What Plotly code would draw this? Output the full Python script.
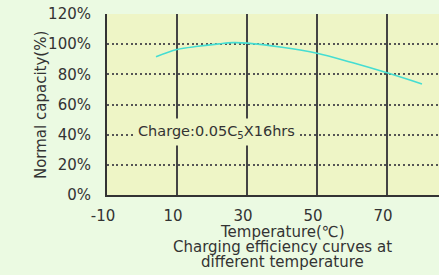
import plotly.graph_objects as go

# Data
temps = [4, 10, 16, 22, 26, 30, 40, 50, 60, 70, 80]
capacity = [91.7, 96.5, 98.6, 100.2, 101.0, 100.7, 98.0, 94.0, 87.8, 81.0, 73.6]

x_ticks = [-10, 10, 30, 50, 70]
y_ticks = [0, 20, 40, 60, 80, 100, 120]
y_tick_text = ["0%", "20%", "40%", "60%", "80%", "100%", "120%"]
y_grid = [20, 40, 60, 80, 100]

PLOT_BG = "#eef5c6"
PAPER_BG = "#ebfae2"
FONT = "DejaVu Sans"
TXT = "#333333"

fig = go.Figure()
fig.add_trace(go.Scatter(
    x=temps, y=capacity, mode="lines",
    line=dict(color="#45ddd2", width=1.6, shape="spline"),
    hoverinfo="skip", showlegend=False,
))

fig.update_layout(
    width=439, height=275,
    margin=dict(l=107, r=0, t=14, b=80),
    paper_bgcolor=PAPER_BG, plot_bgcolor=PLOT_BG,
    font=dict(family=FONT, size=15, color=TXT),
    xaxis=dict(
        range=[-10, 84.86], tickvals=x_ticks, ticktext=[str(v) for v in x_ticks],
        showgrid=True, gridcolor="#444444", gridwidth=1.5,
        showline=True, linecolor="#333333", linewidth=2,
        zeroline=False, ticks="", ticklabelstandoff=6, ticklabelshift=-4,
        tickfont=dict(family=FONT, size=15, color=TXT),
    ),
    yaxis=dict(
        range=[0, 120], tickvals=y_ticks, ticktext=y_tick_text,
        showgrid=False,
        minor=dict(tickvals=y_grid, showgrid=True, gridcolor="#555555",
                   gridwidth=2, griddash="2px,2.7px", ticks=""),
        showline=True, linecolor="#333333", linewidth=2,
        zeroline=False, ticks="", ticklabelstandoff=11,
        tickfont=dict(family=FONT, size=15, color=TXT),
    ),
    annotations=[
        dict(x=21.3, y=41.8, xref="x", yref="y",
             text="Charge:0.05C<sub>5</sub>X16hrs", showarrow=False,
             bgcolor=PLOT_BG, borderpad=4,
             font=dict(family=FONT, size=14.5, color=TXT)),
        dict(x=-0.1988, y=0.497, xref="paper", yref="paper",
             text="Normal capacity(%)", textangle=-90, showarrow=False,
             xanchor="center", yanchor="middle",
             font=dict(family=FONT, size=15, color=TXT)),
        dict(x=0.53, y=-0.204, xref="paper", yref="paper",
             text="Temperature(℃)", showarrow=False,
             xanchor="center", yanchor="middle",
             font=dict(family=FONT, size=15, color=TXT)),
        dict(x=0.53, y=-0.287, xref="paper", yref="paper",
             text="Charging efficiency curves at", showarrow=False,
             xanchor="center", yanchor="middle",
             font=dict(family=FONT, size=15, color=TXT)),
        dict(x=0.53, y=-0.370, xref="paper", yref="paper",
             text="different temperature", showarrow=False,
             xanchor="center", yanchor="middle",
             font=dict(family=FONT, size=15, color=TXT)),
    ],
)

fig.write_html(
    "out.html",
    config={"displayModeBar": False},
    post_script="document.body.style.margin='0';document.body.style.overflow='hidden';",
)
